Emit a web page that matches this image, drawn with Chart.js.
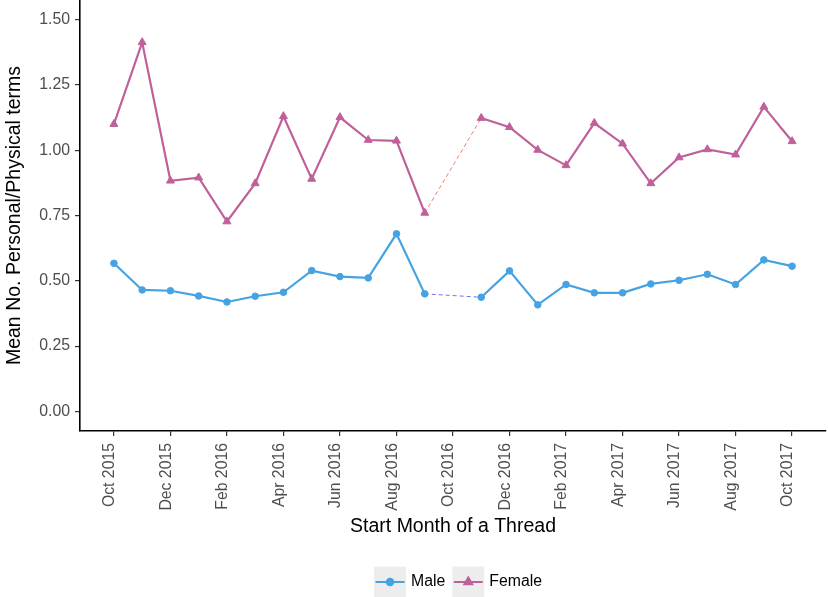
<!DOCTYPE html>
<html>
<head>
<meta charset="utf-8">
<script src="https://cdn.jsdelivr.net/npm/chart.js@4.4.1/dist/chart.umd.min.js"></script>
<style>
  html, body { margin: 0; padding: 0; background: #ffffff; }
  #wrap { width: 828px; height: 597px; position: relative; }
</style>
</head>
<body>
<div id="wrap"><canvas id="chart" width="828" height="597"></canvas></div>
<script>
// Monthly thread start dates (x positions are month indices)
const months = [
  'Oct 2015', 'Nov 2015', 'Dec 2015', 'Jan 2016', 'Feb 2016', 'Mar 2016',
  'Apr 2016', 'May 2016', 'Jun 2016', 'Jul 2016', 'Aug 2016', 'Sep 2016',
  'Oct 2016', 'Nov 2016', 'Dec 2016', 'Jan 2017', 'Feb 2017', 'Mar 2017',
  'Apr 2017', 'May 2017', 'Jun 2017', 'Jul 2017', 'Aug 2017', 'Sep 2017',
  'Oct 2017'
];

// Mean number of personal/physical terms per thread (no data for Oct 2016)
const maleValues = [
  0.567, 0.465, 0.462, 0.442, 0.419, 0.441, 0.456, 0.539, 0.516, 0.511, 0.680, 0.450,
  null,
  0.437, 0.538, 0.408, 0.486, 0.454, 0.454, 0.488, 0.502, 0.525, 0.486, 0.580, 0.556
];
const femaleValues = [
  1.100, 1.413, 0.883, 0.895, 0.727, 0.873, 1.130, 0.890, 1.126, 1.039, 1.036, 0.760,
  null,
  1.123, 1.088, 1.001, 0.942, 1.104, 1.025, 0.873, 0.972, 1.003, 0.983, 1.166, 1.034
];

const seriesNames = ['Male', 'Female'];
const yTickValues = [0, 0.25, 0.5, 0.75, 1.0, 1.25, 1.5];
const xTickIndices = [0, 2, 4, 6, 8, 10, 12, 14, 16, 18, 20, 22, 24];

const FONT_FAMILY = '"Liberation Sans", Arial, Helvetica, sans-serif';
const TICK_SIZE = 15.8;
const TITLE_SIZE = 19.5;

const toPoints = vals => vals.map((v, i) => ({ x: i, y: v }));

// Dashed, thin connector across the missing month
const gap = (ctx, value) => (ctx.p0.skip || ctx.p1.skip) ? value : undefined;

// Grey-keyed legend under the axis title
const keyLegend = {
  id: 'keyLegend',
  afterDraw(chart) {
    const ctx = chart.ctx;
    const area = chart.chartArea;
    ctx.save();
    ctx.font = TICK_SIZE + 'px ' + FONT_FAMILY;
    const keyW = 32, keyH = 31, textGap = 5, itemGap = 7;
    const items = chart.data.datasets.map(ds => ({
      label: ds.label,
      color: ds.borderColor,
      style: ds.pointStyle,
      radius: ds.pointRadius,
      width: ctx.measureText(ds.label).width
    }));
    const total = items.reduce((s, it) => s + keyW + textGap + it.width, 0) + itemGap * (items.length - 1);
    let x = (area.left + area.right) / 2 + 5 - total / 2;
    const top = 566.5;
    const mid = top + 15.5;
    items.forEach(it => {
      ctx.fillStyle = '#EDEDED';
      ctx.fillRect(x, top, keyW, keyH);
      ctx.strokeStyle = it.color;
      ctx.lineWidth = 2;
      ctx.beginPath();
      ctx.moveTo(x + 1.5, mid);
      ctx.lineTo(x + keyW - 1.5, mid);
      ctx.stroke();
      ctx.fillStyle = it.color;
      ctx.strokeStyle = it.color;
      Chart.helpers.drawPoint(ctx, { pointStyle: it.style, radius: it.radius, rotation: 0, borderWidth: 1 }, x + keyW / 2, mid);
      ctx.fillStyle = '#000000';
      ctx.textAlign = 'left';
      ctx.textBaseline = 'middle';
      ctx.fillText(it.label, x + keyW + textGap, mid);
      x += keyW + textGap + it.width + itemGap;
    });
    ctx.restore();
  }
};

new Chart(document.getElementById('chart'), {
  type: 'line',
  data: {
    datasets: [
      {
        label: seriesNames[0],
        data: toPoints(maleValues),
        borderColor: '#45A3E2',
        backgroundColor: '#45A3E2',
        borderWidth: 2.2,
        pointStyle: 'circle',
        pointRadius: 3.3,
        pointBorderWidth: 1,
        spanGaps: true,
        tension: 0,
        segment: {
          borderColor: ctx => gap(ctx, '#6F72F0'),
          borderDash: ctx => gap(ctx, [4, 3]),
          borderWidth: ctx => gap(ctx, 1)
        }
      },
      {
        label: seriesNames[1],
        data: toPoints(femaleValues),
        borderColor: '#C0609A',
        backgroundColor: '#C0609A',
        borderWidth: 2.2,
        pointStyle: 'triangle',
        pointRadius: 4.6,
        pointBorderWidth: 1,
        spanGaps: true,
        tension: 0,
        segment: {
          borderColor: ctx => gap(ctx, '#F8766D'),
          borderDash: ctx => gap(ctx, [4, 3]),
          borderWidth: ctx => gap(ctx, 1)
        }
      }
    ]
  },
  options: {
    responsive: false,
    animation: false,
    devicePixelRatio: 1,
    layout: { autoPadding: false, padding: { left: 0, right: 2, top: 0, bottom: 0 } },
    plugins: {
      legend: { display: false },
      tooltip: { enabled: false }
    },
    scales: {
      x: {
        type: 'linear',
        min: -1.2,
        max: 25.2,
        afterBuildTicks: scale => { scale.ticks = xTickIndices.map(v => ({ value: v })); },
        afterFit: scale => {
          scale.height = 166;
          scale.paddingLeft = 0; scale.paddingRight = 0;
        },
        grid: {
          display: true,
          drawOnChartArea: false,
          drawTicks: true,
          tickLength: 5,
          color: '#333333',
          lineWidth: 1.2
        },
        border: { display: true, color: '#000000', width: 1.6 },
        ticks: {
          autoSkip: false,
          minRotation: 90,
          maxRotation: 90,
          padding: 7,
          labelOffset: -4,
          color: '#4D4D4D',
          font: { family: FONT_FAMILY, size: TICK_SIZE },
          callback: v => months[v]
        },
        title: {
          display: true,
          text: 'Start Month of a Thread',
          color: '#000000',
          font: { family: FONT_FAMILY, size: TITLE_SIZE },
          padding: { top: 0, bottom: 59 }
        }
      },
      y: {
        type: 'linear',
        min: -0.075,
        max: 1.575,
        afterBuildTicks: scale => { scale.ticks = yTickValues.map(v => ({ value: v })); },
        afterFit: scale => {
          scale.width = 80;
          scale.paddingTop = 0; scale.paddingBottom = 0;
        },
        grid: {
          display: true,
          drawOnChartArea: false,
          drawTicks: true,
          tickLength: 5,
          color: '#333333',
          lineWidth: 1.2
        },
        border: { display: true, color: '#000000', width: 1.6 },
        ticks: {
          padding: 5,
          color: '#4D4D4D',
          font: { family: FONT_FAMILY, size: TICK_SIZE },
          callback: v => v.toFixed(2)
        },
        title: {
          display: true,
          text: 'Mean No. Personal/Physical terms',
          color: '#000000',
          font: { family: FONT_FAMILY, size: TITLE_SIZE },
          padding: { top: 3, bottom: 0 }
        }
      }
    }
  },
  plugins: [keyLegend]
});
</script>
</body>
</html>
